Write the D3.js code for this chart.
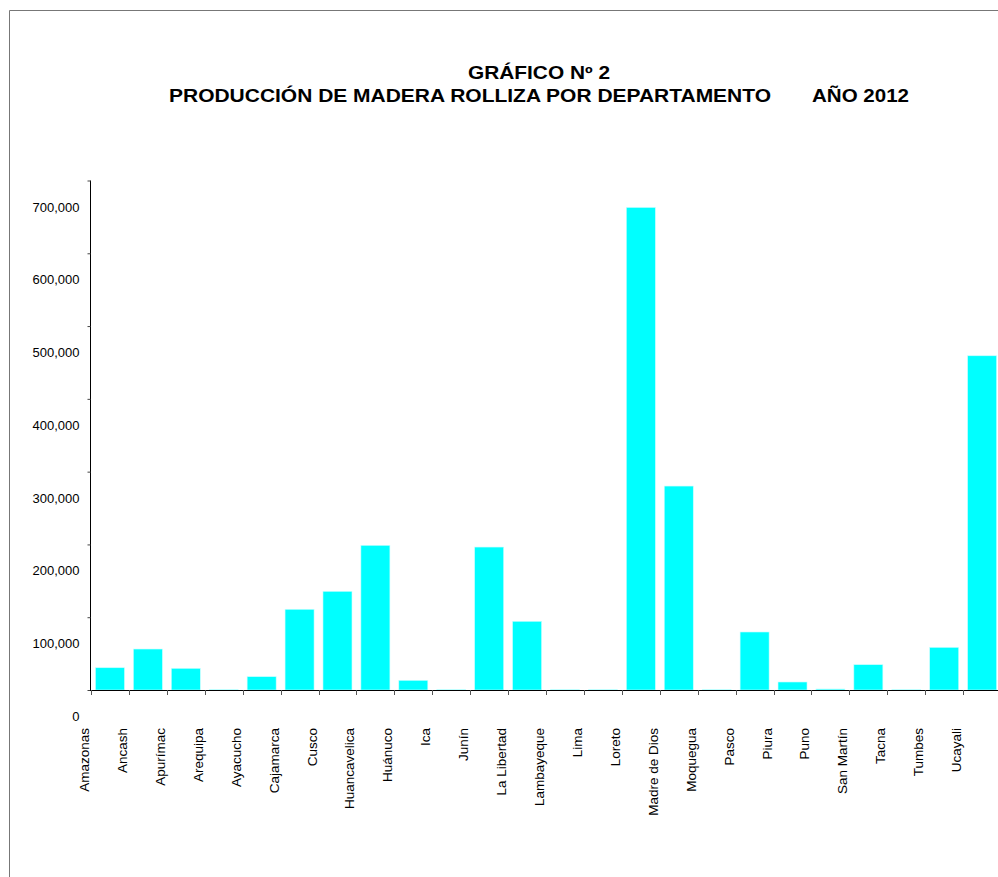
<!DOCTYPE html>
<html>
<head>
<meta charset="utf-8">
<script src="https://cdnjs.cloudflare.com/ajax/libs/d3/7.8.5/d3.min.js"></script>
<style>
  body { margin: 0; background: white; }
  svg { font-family: "Liberation Sans", Arial, sans-serif; display: block; }
</style>
</head>
<body>
<div id="chart"></div>
<script>
// Producción de madera rolliza ///////////////////////////////////////////////

var categories = ['Amazonas', 'Ancash', 'Apurímac', 'Arequipa', 'Ayacucho',
  'Cajamarca', 'Cusco', 'Huancavelica', 'Huánuco', 'Ica', 'Junín',
  'La Libertad', 'Lambayeque', 'Lima', 'Loreto', 'Madre de Dios', 'Moquegua',
  'Pasco', 'Piura', 'Puno', 'San Martín', 'Tacna', 'Tumbes', 'Ucayali'];

var values = [30600, 56300, 29800, 400, 18300, 110900, 135600, 198800, 13300,
  400, 196400, 94400, 400, 400, 663000, 280200, 400, 79700, 11000, 1400,
  34800, 400, 58600, 459200];

var yTicks = [0, 100000, 200000, 300000, 400000, 500000, 600000, 700000];

var titleLine1 = 'GRÁFICO Nº 2';
var titleLine2 = 'PRODUCCIÓN DE MADERA ROLLIZA POR DEPARTAMENTO';
var titleYear = 'AÑO 2012';

///////////////////////////////////////////////////////////////////////////////

var width = 998;
var height = 877;
var left = 91;
var base = 690;
var top700 = 180.5;

var svg = d3.select('#chart').append('svg')
  .attr('width', width)
  .attr('height', height);

// frame
svg.append('path')
  .attr('d', 'M9.5,877 L9.5,10.5 L998,10.5')
  .style('fill', 'none')
  .style('stroke', '#777')
  .style('stroke-width', 1);

// titles
svg.append('text')
  .attr('x', 468)
  .attr('y', 79)
  .attr('textLength', 142)
  .attr('lengthAdjust', 'spacingAndGlyphs')
  .style('font-weight', 'bold')
  .style('font-size', '18px')
  .text(titleLine1);

svg.append('text')
  .attr('x', 169)
  .attr('y', 102)
  .attr('textLength', 602)
  .attr('lengthAdjust', 'spacingAndGlyphs')
  .style('font-weight', 'bold')
  .style('font-size', '18px')
  .text(titleLine2);

svg.append('text')
  .attr('x', 812)
  .attr('y', 102)
  .attr('textLength', 97)
  .attr('lengthAdjust', 'spacingAndGlyphs')
  .style('font-weight', 'bold')
  .style('font-size', '18px')
  .text(titleYear);

///////////////////////////////////////////////////////////////////////////////

var x = d3.scaleBand()
  .domain(categories)
  .range([left, left + 24 * 37.92])
  .paddingInner(0.235)
  .paddingOuter(0.1175);

var y = d3.scaleLinear()
  .domain([0, 700000])
  .range([base, top700]);

var edge = function(d){ return x(d) - (x.step() - x.bandwidth()) / 2; };

// bars
svg.append('g').selectAll('rect')
  .data(values)
  .enter().append('rect')
  .attr('x', function(d, i){ return x(categories[i]); })
  .attr('y', function(d){ return y(d); })
  .attr('width', x.bandwidth())
  .attr('height', function(d){ return base - y(d); })
  .style('fill', '#00ffff')
  .style('stroke', '#c8ffff')
  .style('stroke-width', 0.6);

// y axis
var yAxis = svg.append('g')
  .attr('transform', 'translate(' + (left - 0.5) + ',0)')
  .call(d3.axisLeft(y)
    .tickValues(yTicks)
    .tickSize(3)
    .tickSizeOuter(0)
    .tickFormat(d3.format(',')));

yAxis.select('.domain')
  .attr('d', 'M0,' + top700 + 'V' + base)
  .style('stroke', '#000');
yAxis.selectAll('.tick line').style('stroke', '#444');
yAxis.selectAll('.tick text')
  .attr('x', -11)
  .attr('dy', 26 + 4.5)
  .style('font-family', '"Liberation Sans", Arial, sans-serif')
  .style('font-size', '13px')
  .style('fill', '#000');

// x axis
svg.append('line')
  .attr('x1', left - 1)
  .attr('x2', width)
  .attr('y1', base + 0.5)
  .attr('y2', base + 0.5)
  .style('stroke', '#000');

svg.append('g').selectAll('line')
  .data(categories)
  .enter().append('line')
  .attr('x1', function(d){ return Math.round(edge(d)) + 0.5; })
  .attr('x2', function(d){ return Math.round(edge(d)) + 0.5; })
  .attr('y1', base)
  .attr('y2', base + 5)
  .style('stroke', '#555');

svg.append('g').selectAll('text')
  .data(categories)
  .enter().append('text')
  .attr('transform', function(d){
    return 'translate(' + (edge(d) - 2) + ',' + 728 + ') rotate(-90)';
  })
  .attr('text-anchor', 'end')
  .style('font-size', '13.5px')
  .text(function(d){ return d; });

</script>
</body>
</html>
